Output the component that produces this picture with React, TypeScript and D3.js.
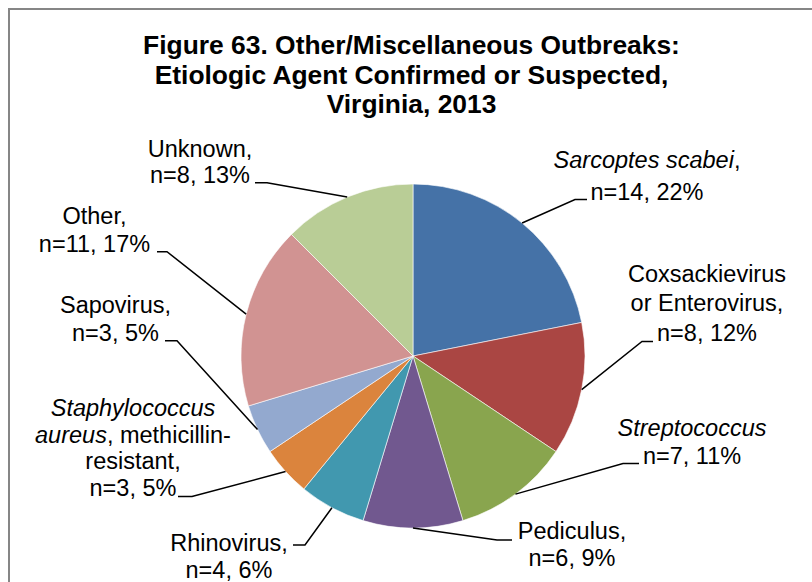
import React from "react";
import * as d3 from "d3";

// ---- data ----
const categories = [
  "Sarcoptes scabei",
  "Coxsackievirus or Enterovirus",
  "Streptococcus",
  "Pediculus",
  "Rhinovirus",
  "Staphylococcus aureus, methicillin-resistant",
  "Sapovirus",
  "Other",
  "Unknown",
];
const counts = [14, 8, 7, 6, 4, 3, 3, 11, 8];
const percents = [22, 12, 11, 9, 6, 5, 5, 17, 13];
const colors = [
  "#4572A7",
  "#AA4643",
  "#89A54E",
  "#71588F",
  "#4198AF",
  "#DB843D",
  "#93A9CF",
  "#D19392",
  "#B9CD96",
];
const titleLines = [
  "Figure 63. Other/Miscellaneous Outbreaks:",
  "Etiologic Agent Confirmed or Suspected,",
  "Virginia, 2013",
];
// label text lines: segments of [text, italic]
type Seg = [string, boolean];
const labelLines: Seg[][][] = [
  [[["Sarcoptes scabei", true], [",", false]], [[`n=${counts[0]}, ${percents[0]}%`, false]]],
  [[["Coxsackievirus", false]], [["or Enterovirus,", false]], [[`n=${counts[1]}, ${percents[1]}%`, false]]],
  [[["Streptococcus", true]], [[`n=${counts[2]}, ${percents[2]}%`, false]]],
  [[["Pediculus,", false]], [[`n=${counts[3]}, ${percents[3]}%`, false]]],
  [[["Rhinovirus,", false]], [[`n=${counts[4]}, ${percents[4]}%`, false]]],
  [
    [["Staphylococcus", true]],
    [["aureus", true], [", methicillin-", false]],
    [["resistant,", false]],
    [[`n=${counts[5]}, ${percents[5]}%`, false]],
  ],
  [[["Sapovirus,", false]], [[`n=${counts[6]}, ${percents[6]}%`, false]]],
  [[["Other,", false]], [[`n=${counts[7]}, ${percents[7]}%`, false]]],
  [[["Unknown,", false]], [[`n=${counts[8]}, ${percents[8]}%`, false]]],
];

// ---- layout (label placement) ----
// cx: text centre, y0: first baseline, lh: line height, stub: [xNearText, xFar, y]
const labelLayout = [
  { cx: 647, y0: 168, lh: 31.5, stub: [587, 575, 199.5] },
  { cx: 707, y0: 282, lh: 29.3, stub: [653, 642, 341.5] },
  { cx: 692, y0: 436, lh: 27.5, stub: [639, 623, 463.5] },
  { cx: 572, y0: 538.5, lh: 27, stub: [512, 497, 540] },
  { cx: 229, y0: 550.7, lh: 27.6, stub: [293, 305, 545] },
  { cx: 133, y0: 416, lh: 26.6, stub: [178, 192, 496.5] },
  { cx: 115.5, y0: 313.3, lh: 27.4, stub: [165, 177, 340.7] },
  { cx: 94.5, y0: 224, lh: 27.7, stub: [157, 167, 251.7] },
  { cx: 200, y0: 156.7, lh: 26.6, stub: [255, 267, 182.7] },
];

const W = 812;
const H = 582;
const CX = 413;
const CY = 356;
const R = 172;
const FONT = "'Liberation Sans', Arial, sans-serif";

export default function App() {
  const data = categories.map((c, i) => ({ name: c, value: counts[i], i }));
  const pie = d3
    .pie<any>()
    .value((d) => d.value)
    .sort(null)
    .startAngle(0)
    .endAngle(2 * Math.PI);
  const arcs = pie(data);
  const arc = d3.arc<any>().innerRadius(0).outerRadius(R);

  return (
    <svg
      width={W}
      height={H}
      style={{ position: "absolute", left: 0, top: 0, background: "#fff" }}
      fontFamily={FONT}
    >
      <rect x={0} y={0} width={W} height={H} fill="#fff" />
      <rect x={9} y={9} width={W + 20} height={H + 20} fill="none" stroke="#868686" strokeWidth={2} />
      <g textAnchor="middle" fontWeight="bold" fontSize={26.4} fill="#000">
        {titleLines.map((t, i) => (
          <text key={i} x={411.5} y={54 + i * 29.5}>
            {t}
          </text>
        ))}
      </g>
      <g transform={`translate(${CX},${CY})`}>
        {arcs.map((a, i) => (
          <path key={i} d={arc(a) as string} fill={colors[i]} stroke="#fff" strokeWidth={0.6} />
        ))}
      </g>
      {arcs.map((a, i) => {
        const mid = (a.startAngle + a.endAngle) / 2;
        const px = CX + R * Math.sin(mid);
        const py = CY - R * Math.cos(mid);
        const L = labelLayout[i];
        const [sx1, sx2, sy] = L.stub;
        const pts = `${sx1},${sy} ${sx2},${sy} ${px},${py}`;
        return <polyline key={i} points={pts} fill="none" stroke="#000" strokeWidth={1.5} />;
      })}
      <g fontSize={23.5} fill="#000" textAnchor="middle">
        {labelLines.map((lines, i) => {
          const L = labelLayout[i];
          return lines.map((segs, j) => (
            <text key={`${i}-${j}`} x={L.cx} y={L.y0 + j * L.lh}>
              {segs.map(([t, it], k) => (
                <tspan key={k} fontStyle={it ? "italic" : "normal"}>
                  {t}
                </tspan>
              ))}
            </text>
          ));
        })}
      </g>
    </svg>
  );
}
